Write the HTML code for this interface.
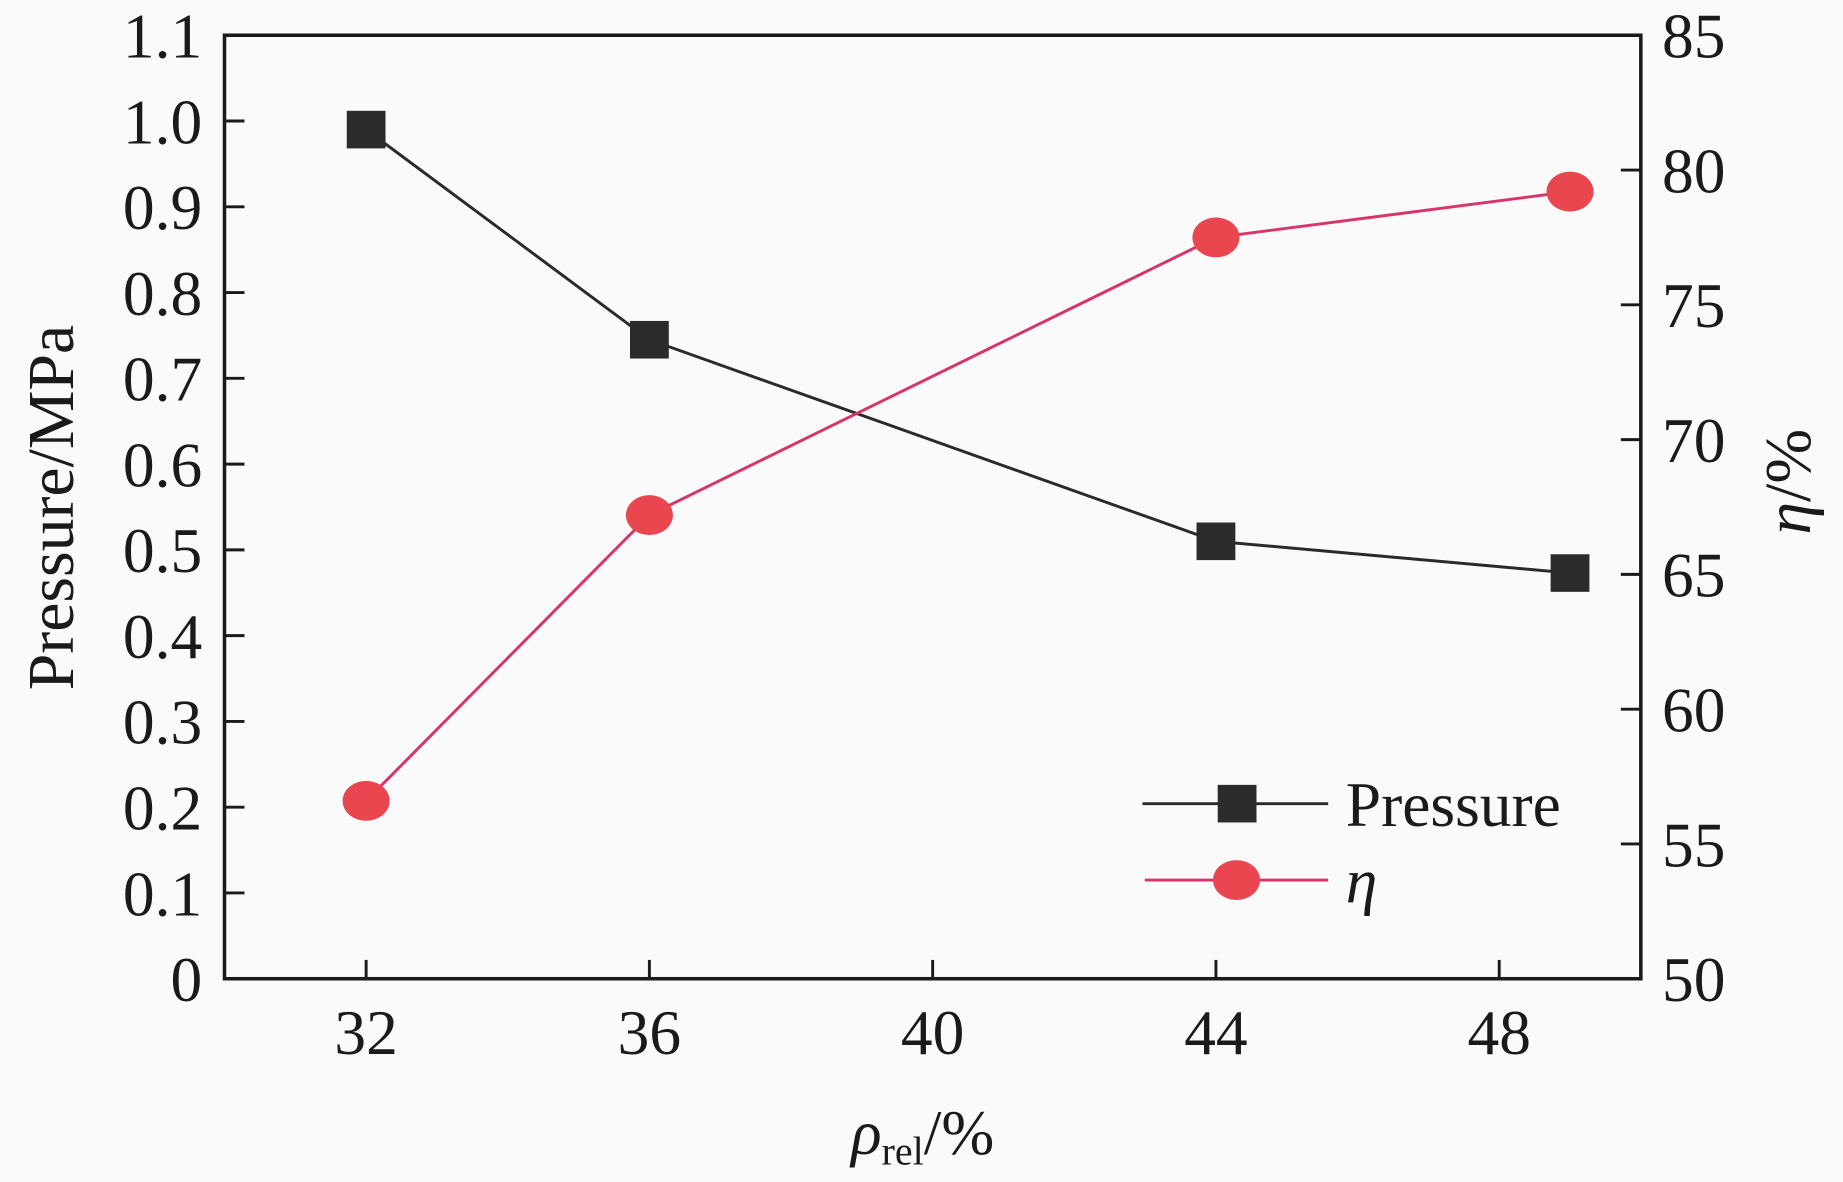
<!DOCTYPE html>
<html><head><meta charset="utf-8"><style>
html,body{margin:0;padding:0;background:#fafafa;}
svg{display:block;}
text{font-family:"Liberation Serif",serif;fill:#1a1a1a;}
</style></head><body>
<svg id="chart" width="1843" height="1182" viewBox="0 0 1568 1006" preserveAspectRatio="none" xmlns="http://www.w3.org/2000/svg">
<rect width="1568" height="1006" fill="#fafafa"/>
<g id="grid"></g>
<g id="series"></g>
<g id="legend">
  <g>
    <line x1="972" y1="684" x2="1130" y2="684" stroke="#2a2a2a" stroke-width="2.5"/>
    <rect x="1036" y="668" width="33" height="32" fill="#2b2b2b"/>
    <text x="1145" y="703" font-size="54">Pressure</text>
  </g>
  <g>
    <line x1="974" y1="749" x2="1130" y2="749" stroke="#d9336a" stroke-width="2.5"/>
    <ellipse cx="1052" cy="749" rx="20" ry="17" fill="#ea4650"/>
    <text x="1145" y="768" font-size="54" font-style="italic">η</text>
  </g>
</g>
<text font-size="56" transform="translate(62,432) rotate(-90)" text-anchor="middle">Pressure/MPa</text>
<text font-size="56" transform="translate(1540,410) rotate(-90)" text-anchor="middle"><tspan font-style="italic">η</tspan>/%</text>
<text font-size="54" x="785" y="982" text-anchor="middle"><tspan font-style="italic">ρ</tspan><tspan font-size="34" dy="9">rel</tspan><tspan dy="-9">/%</tspan></text>
</svg>
<script>
const xCategories = [32, 36, 44, 49];
const pressureValues = [0.99, 0.745, 0.51, 0.473];
const etaValues = [56.6, 67.2, 77.5, 79.2];
const xTickLabels = [32, 36, 40, 44, 48];
const leftTickLabels = ["0","0.1","0.2","0.3","0.4","0.5","0.6","0.7","0.8","0.9","1.0","1.1"];
const rightTickLabels = [50, 55, 60, 65, 70, 75, 80, 85];

const L=191, R=1396, T=30, B=833;
const xS = v => L + (v-30)/(50-30)*(R-L);
const yL = v => B - v/1.1*(B-T);
const yR = v => B - (v-50)/35*(B-T);
const NS='http://www.w3.org/2000/svg';
const grid=document.getElementById('grid');
const ser=document.getElementById('series');
function mk(tag,attrs,parent){const e=document.createElementNS(NS,tag);for(const k in attrs)e.setAttribute(k,attrs[k]);parent.appendChild(e);return e;}

const frame=mk('rect',{x:L,y:T,width:R-L,height:B-T,fill:'none',stroke:'#1a1a1a','stroke-width':3},grid);



xTickLabels.forEach(v=>{
  const x=xS(v);
  const t=mk('line',{x1:x,y1:B,x2:x,y2:B-16,stroke:'#1a1a1a','stroke-width':2.5},grid);
  
  
  const l=mk('text',{x:x,y:B+64,'font-size':54,'text-anchor':'middle'},grid);
  l.textContent=v;
  
  
});
leftTickLabels.forEach(s=>{
  const y=yL(parseFloat(s));
  if(s!=="0"&&s!=="1.1"){
    const t=mk('line',{x1:L,y1:y,x2:L+17,y2:y,stroke:'#1a1a1a','stroke-width':2.5},grid);
    
    
  }
  const l=mk('text',{x:172,y:y+19,'font-size':54,'text-anchor':'end'},grid);
  l.textContent=s;
  
  
});
rightTickLabels.forEach(v=>{
  const y=yR(v);
  if(v!==50&&v!==85){
    const t=mk('line',{x1:R,y1:y,x2:R-17,y2:y,stroke:'#1a1a1a','stroke-width':2.5},grid);
    
    
  }
  const l=mk('text',{x:1414,y:y+19,'font-size':54},grid);
  l.textContent=v;
  
  
});

const pP=xCategories.map((c,i)=>xS(c)+','+yL(pressureValues[i])).join(' ');
const pl=mk('polyline',{points:pP,fill:'none',stroke:'#2a2a2a','stroke-width':2.5},ser);


const eP=xCategories.map((c,i)=>xS(c)+','+yR(etaValues[i])).join(' ');
const el=mk('polyline',{points:eP,fill:'none',stroke:'#d9336a','stroke-width':2.5},ser);


xCategories.forEach((c,i)=>{
  const r=mk('rect',{x:xS(c)-16.5,y:yL(pressureValues[i])-16,width:33,height:32,fill:'#2b2b2b'},ser);
  
  
  const e=mk('ellipse',{cx:xS(c),cy:yR(etaValues[i]),rx:20,ry:17,fill:'#ea4650'},ser);
  
  
});
</script>
</body></html>
